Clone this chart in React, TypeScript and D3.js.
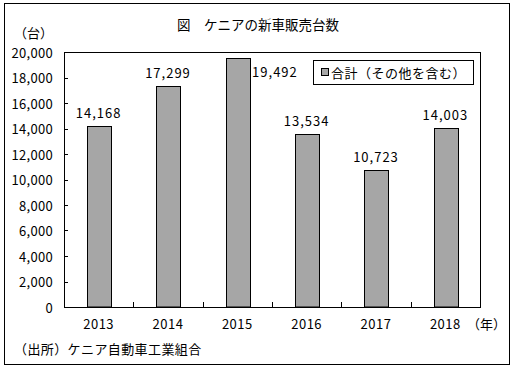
import React from 'react';
import * as d3 from 'd3';

const years = ['2013', '2014', '2015', '2016', '2017', '2018'];
const sales = [14168, 17299, 19492, 13534, 10723, 14003];
const yTicks = [0, 2000, 4000, 6000, 8000, 10000, 12000, 14000, 16000, 18000, 20000];

const width = 515;
const height = 367;
const plot = { left: 64, top: 52, right: 480, bottom: 307 };
const font = '"Noto Sans CJK JP", sans-serif';

export default function App() {
  const xScale = d3
    .scaleBand()
    .domain(years)
    .range([plot.left, plot.right])
    .paddingInner(0.66)
    .paddingOuter(0.33);

  const yScale = d3.scaleLinear().domain([0, 20000]).range([plot.bottom, plot.top]);

  const fmt = d3.format(',');
  const step = xScale.step();
  const boundaries = d3.range(1, years.length).map((i) => plot.left + i * step);

  return (
    <svg
      width={width}
      height={height}
      style={{ position: 'absolute', left: 0, top: 0, background: '#fff' }}
      fontFamily={font}
      fontSize={13}
    >
      <rect x={4.5} y={3.5} width={505} height={361} fill="#fff" stroke="#000" strokeWidth={1} />

      <text x={258} y={24} textAnchor="middle" dominantBaseline="central" fontSize={13.5}>
        図　ケニアの新車販売台数
      </text>
      <text x={14} y={32} dominantBaseline="central">
        （台）
      </text>

      {/* y axis labels + ticks */}
      {yTicks.map((t) => (
        <g key={t}>
          <text x={53} y={yScale(t)} textAnchor="end" dominantBaseline="central" letterSpacing={0.3}>
            {fmt(t)}
          </text>
          <line x1={plot.left} x2={plot.left + 4} y1={Math.round(yScale(t)) + 0.5} y2={Math.round(yScale(t)) + 0.5} stroke="#000" />
        </g>
      ))}

      {/* x ticks between categories */}
      {boundaries.map((b) => (
        <line key={b} x1={Math.round(b) + 0.5} x2={Math.round(b) + 0.5} y1={plot.bottom} y2={plot.bottom - 5} stroke="#000" />
      ))}

      {/* bars */}
      {years.map((yr, i) => {
        const x = Math.round(xScale(yr) as number) + 0.5;
        const y = Math.round(yScale(sales[i])) + 0.5;
        return (
          <rect
            key={yr}
            x={x}
            y={y}
            width={Math.round(xScale.bandwidth())}
            height={plot.bottom - y}
            fill="#a6a6a6"
            stroke="#000"
          />
        );
      })}

      {/* value labels */}
      {years.map((yr, i) => {
        const cx = (xScale(yr) as number) + xScale.bandwidth() / 2;
        const top = yScale(sales[i]);
        if (yr === '2015') {
          return (
            <text key={yr} x={(xScale(yr) as number) + xScale.bandwidth() + 3} y={71} dominantBaseline="central" letterSpacing={1}>
              {fmt(sales[i])}
            </text>
          );
        }
        return (
          <text key={yr} x={cx} y={top - 8} textAnchor="middle" letterSpacing={1}>
            {fmt(sales[i])}
          </text>
        );
      })}

      {/* plot frame */}
      <rect
        x={plot.left + 0.5}
        y={plot.top + 0.5}
        width={plot.right - plot.left}
        height={plot.bottom - plot.top}
        fill="none"
        stroke="#000"
      />

      {/* x labels */}
      {years.map((yr) => (
        <text
          key={yr}
          x={(xScale(yr) as number) + xScale.bandwidth() / 2}
          y={323}
          textAnchor="middle"
          dominantBaseline="central"
          letterSpacing={0.5}
        >
          {yr}
        </text>
      ))}
      <text x={467} y={323} dominantBaseline="central">
        （年）
      </text>

      {/* legend */}
      <rect x={313.5} y={60.5} width={160} height={24} fill="#fff" stroke="#000" />
      <rect x={321.5} y={68.5} width={7} height={7} fill="#a6a6a6" stroke="#000" />
      <text x={331} y={72} dominantBaseline="central" letterSpacing={0.5}>
        合計（その他を含む）
      </text>

      <text x={14} y={348} dominantBaseline="central" letterSpacing={0.4}>
        （出所）ケニア自動車工業組合
      </text>
    </svg>
  );
}
